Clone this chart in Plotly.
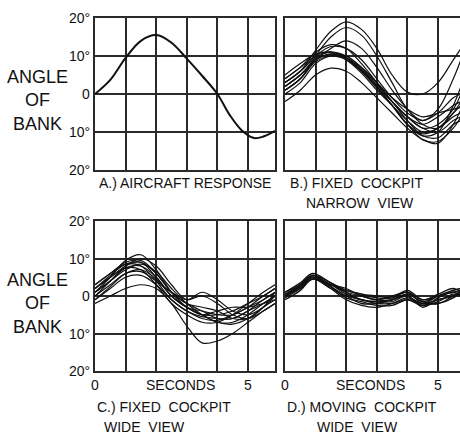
import plotly.graph_objects as go

# ---------------- data ----------------
t_a = [0, 0.5, 1.0, 1.5, 2.0, 2.5, 3.0, 3.5, 4.0, 4.4, 4.8, 5.2, 5.5, 5.88]
aircraft = [0, 3.7, 9.5, 14, 15.5, 13.5, 9.3, 4.8, 0, -5.5, -9.6, -11.6, -11.2, -9.7]

t_b = [0, 0.5, 1.0, 1.5, 2.0, 2.5, 3.0, 3.5, 4.0, 4.5, 5.0, 5.5, 5.75]
narrow = [
    [3, 6, 11.5, 16.5, 19, 17, 12, 5, 0.5, 0, 3, 9, 12],
    [1, 4, 10, 15, 17.5, 15.5, 10, 3, -4, -7, -4, 4, 9],
    [4, 7, 11, 13, 12, 8, 3, -2, -6, -8, -6, -3, -2],
    [3, 6, 9.5, 11, 10, 7, 3, -2, -6, -9, -10, -7, -6],
    [2, 5, 9, 10.5, 9.5, 6, 2, -3, -7, -10, -9, -6, -5],
    [0, 3, 8, 10, 9.5, 6.5, 2.5, -2, -7, -11, -11.5, -8, -7],
    [5, 8, 10.5, 11, 9, 5.5, 1, -3, -8, -12, -12.5, -9, -6],
    [1, 4, 8.5, 10, 9, 6, 1.5, -3, -8, -11, -10, -3, 2],
    [-2, 1, 5, 6.8, 6, 3, -1, -5, -9, -12, -13, -8, -4],
    [3, 6, 10, 12.5, 12, 9, 4, -1, -5, -7, -5, -1, 0],
    [2, 5, 9, 10.5, 10, 7, 3, -1, -4, -6, -5, -4, -3.5],
    [4, 7, 10, 11, 9.5, 6, 2, -2, -6, -9, -8, -4, 0],
    [1, 4, 9, 12, 14, 12, 7, 1, -4, -8, -9, -5, -2],
    [2, 5, 9, 10.5, 9.5, 6.5, 2, -3, -8, -10.5, -9, -5, -3],
]

t_c = [0, 0.5, 1.0, 1.5, 2.0, 2.5, 3.0, 3.5, 4.0, 4.5, 5.0, 5.5, 5.88]
wide_fixed = [
    [1, 5, 9.5, 11, 7, 1, -3, -5, -5, -4, -2, 0, 2],
    [2, 5.5, 8.5, 9, 5, 0, -3, -4, -5, -5, -3, -1, 1],
    [0, 4, 8, 9, 6, 1, -2, -4, -6, -6, -4, -1, 1],
    [3, 6, 8.5, 8, 4, -1, -4, -6, -6.5, -5, -3, 0, 2],
    [-1, 2.5, 6, 7, 4.5, 0, -3, -5, -7, -7.5, -6, -3, -1],
    [1, 4, 7, 8.5, 6.5, 2, -2, -5, -7, -7, -5, -2, 0],
    [2, 5, 7.5, 7, 3, -2, -5, -7, -7, -5, -2, 1, 3],
    [0, 3, 6, 6.5, 4, 1, -1, 0, -2, -5, -6, -4, -2],
    [-2, 0, 2, 3, 2, -2, -8, -12.5, -12, -10, -7, -4, -2],
    [2, 5, 8, 10, 8, 3, -1, 1, -1, -4, -5, -3, 0],
    [1, 4, 7.5, 8, 5, 0, -3, -5, -4, -3, -3, -2, -1],
    [-1, 2, 5, 5.5, 3, -1, -4, -5.5, -6, -6, -4, -2, 0],
    [3, 6, 9, 9.5, 6, 1, -2, -3, -4, -6, -6, -3, 1],
]

t_d = [0, 0.5, 0.9, 1.5, 2.0, 2.5, 3.0, 3.5, 4.0, 4.5, 5.0, 5.5, 5.75]
wide_moving = [
    [0, 2.5, 5, 3, 1, 0, -1, -1, 0.5, -1.5, 0, 1, 1.5],
    [1, 3.5, 6, 3.5, 1.5, 0.5, -0.5, -0.5, 1.5, -1, 0.5, 2, 1],
    [-1, 1.5, 4.5, 2, 0, -1, -2, -2, -1, -2.5, -1, 0, 0.5],
    [0.5, 3, 5.5, 2.5, -0.5, -1.5, -2.5, -2.5, -1, -2, -2, -0.5, 1],
    [0, 2, 4.5, 3, 0.5, -1, -1.5, -1, 0, -2.5, -1.5, 0.5, 0],
    [1, 3, 5, 2, -1, -2.5, -3, -2, -0.5, -2, -1, 0, 1.5],
    [-0.5, 2, 4.5, 3, 2, 0, -1, 0, 1, -1, 0, 1.5, 2],
    [0.5, 2.5, 5.5, 3.5, 1, -1, -1.5, -1.5, 0, -3, -0.5, 1, 0],
    [0, 2.5, 5, 2.5, 0, -2, -2, -1, 0.5, -1.5, -2, 0, 1],
    [0, 3, 5.5, 3, 1.5, 0.5, 0, -0.5, 1, -2, 0, 1.5, 2],
]

y_ticks = [-20, -10, 0, 10, 20]
y_tick_text = ["20°", "10°", "0", "10°", "20°"]
x_ticks = [0, 1, 2, 3, 4, 5]
x_tick_text = {0: "0", 5: "5"}

# ---------------- figure ----------------
W, H = 460, 437
FONT = "Liberation Sans, Arial, sans-serif"
INK = "#111111"
GRID = "#2a2a2a"

fig = go.Figure()

fig.add_trace(go.Scatter(x=t_a, y=aircraft, mode="lines", line=dict(color=INK, width=2, shape="spline"),
                         xaxis="x", yaxis="y", showlegend=False, hoverinfo="skip"))
for s in narrow:
    fig.add_trace(go.Scatter(x=t_b, y=s, mode="lines", line=dict(color=INK, width=1.2, shape="spline"),
                             xaxis="x2", yaxis="y2", showlegend=False, hoverinfo="skip"))
for s in wide_fixed:
    fig.add_trace(go.Scatter(x=t_c, y=s, mode="lines", line=dict(color=INK, width=1.2, shape="spline"),
                             xaxis="x3", yaxis="y3", showlegend=False, hoverinfo="skip"))
for s in wide_moving:
    fig.add_trace(go.Scatter(x=t_d, y=s, mode="lines", line=dict(color=INK, width=1.3, shape="spline"),
                             xaxis="x4", yaxis="y4", showlegend=False, hoverinfo="skip"))

def px_x(p):
    return p / W

def px_y(p):
    return 1 - p / H

dom_x_left = [px_x(95), px_x(275)]
dom_x_right = [px_x(285), 1.0]
dom_y_top = [px_y(170), px_y(18)]
dom_y_bot = [px_y(371), px_y(221)]

def xax(domain, rng, anchor):
    return dict(domain=domain, range=rng, anchor=anchor, tickvals=x_ticks, showticklabels=False,
                showgrid=True, gridcolor=GRID, gridwidth=1.8, zeroline=False,
                showline=True, linecolor=GRID, linewidth=1.8, mirror=True, ticks="", fixedrange=True)

def yax(domain, anchor, mirror):
    return dict(domain=domain, range=[-20, 20], anchor=anchor, tickvals=y_ticks, showticklabels=False,
                showgrid=True, gridcolor=GRID, gridwidth=1.8, zeroline=False,
                showline=True, linecolor=GRID, linewidth=1.8, mirror=mirror, ticks="", fixedrange=True)

rng_l = [0, 180 / 30.6]
rng_r = [0, 175 / 30.6]

fig.update_layout(
    width=W, height=H, autosize=False,
    margin=dict(l=0, r=0, t=0, b=0, pad=0),
    paper_bgcolor="white", plot_bgcolor="white",
    xaxis=xax(dom_x_left, rng_l, "y"), yaxis=yax(dom_y_top, "x", True),
    xaxis2=xax(dom_x_right, rng_r, "y2"), yaxis2=yax(dom_y_top, "x2", False),
    xaxis3=xax(dom_x_left, rng_l, "y3"), yaxis3=yax(dom_y_bot, "x3", True),
    xaxis4=xax(dom_x_right, rng_r, "y4"), yaxis4=yax(dom_y_bot, "x4", False),
)

def note(text, x, y, size=14, xanchor="center", xref="paper", yref="paper", align="center"):
    fig.add_annotation(text=text, x=px_x(x) if xref == "paper" else x,
                       y=px_y(y) if yref == "paper" else y, xref=xref, yref=yref,
                       xanchor=xanchor, yanchor="middle", showarrow=False, align=align,
                       font=dict(family=FONT, size=size, color=INK))

# y-axis titles
for yc in (100, 303):
    note("ANGLE<br>OF<br>BANK", 37, yc, size=18)

# y tick labels
for yr in ("y", "y3"):
    for v, txt in zip(y_ticks, y_tick_text):
        note(txt, 92, v, xanchor="right", yref=yr)

# x labels
for xr in ("x3", "x4"):
    for v, txt in x_tick_text.items():
        note(txt, v, 385, xref=xr)
    note("SECONDS", 2.8, 385, xref=xr)

# captions
note("A.) AIRCRAFT RESPONSE", 97, 183, xanchor="left")
note("B.) FIXED  COCKPIT", 288, 183, xanchor="left")
note("NARROW  VIEW", 360, 203)
note("C.) FIXED  COCKPIT", 95, 407, xanchor="left")
note("WIDE  VIEW", 144, 427)
note("D.) MOVING  COCKPIT", 285, 407, xanchor="left")
note("WIDE  VIEW", 357, 427)

fig.write_html(
    "out.html",
    config={"displayModeBar": False},
    post_script="document.body.style.margin='0';document.body.style.overflow='hidden';",
)
